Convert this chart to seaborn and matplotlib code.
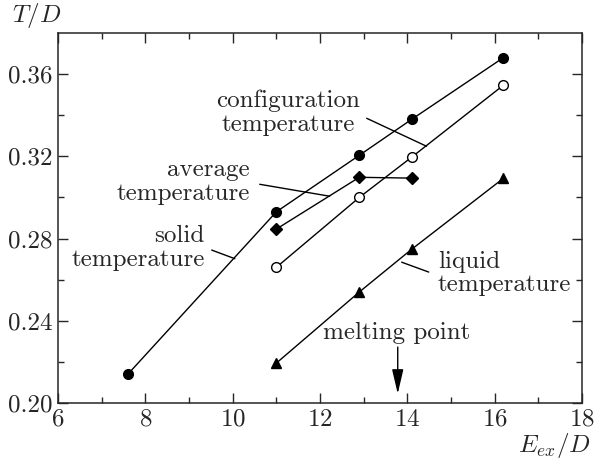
import pandas as pd
import numpy as np
import matplotlib
matplotlib.use("Agg")
import matplotlib.pyplot as plt
import seaborn as sns

# ── Données ────────────────────────────────────────────────
solid_x = [7.6, 11.0, 12.9, 14.1, 16.2]
solid_y = [0.214, 0.293, 0.3205, 0.338, 0.368]

config_x = [11.0, 12.9, 14.1, 16.2]
config_y = [0.266, 0.300, 0.3196, 0.3546]

average_x = [11.0, 12.9, 14.1]
average_y = [0.2846, 0.3098, 0.3094]

liquid_x = [11.0, 12.9, 14.1, 16.2]
liquid_y = [0.2194, 0.254, 0.2748, 0.3093]

xticks = [6, 8, 10, 12, 14, 16, 18]
yticks = [0.20, 0.24, 0.28, 0.32, 0.36]
ytick_labels = ["0.20", "0.24", "0.28", "0.32", "0.36"]

melting_x = 13.78

# ── Style ──────────────────────────────────────────────────
sns.set_style("ticks")
plt.rcParams["font.family"] = ["cmr10", "DejaVu Serif"]
plt.rcParams["mathtext.fontset"] = "cm"
plt.rcParams["axes.formatter.use_mathtext"] = True
plt.rcParams["font.size"] = 18

fig = plt.figure(figsize=(5.94, 4.63), dpi=100)
ax = fig.add_axes([58 / 594, 1 - 403 / 463, 524 / 594, 370 / 463])

series = [
    ("solid", solid_x, solid_y, "o", "black"),
    ("config", config_x, config_y, "o", "white"),
    ("average", average_x, average_y, "D", "black"),
    ("liquid", liquid_x, liquid_y, "^", "black"),
]
for name, xs, ys, mk, fc in series:
    df = pd.DataFrame({"x": xs, "y": ys})
    ms = 6.2 if mk == "D" else 7
    sns.lineplot(data=df, x="x", y="y", ax=ax, color="black", lw=1.0,
                 marker=mk, markersize=ms, markerfacecolor=fc,
                 markeredgecolor="black", markeredgewidth=1.0,
                 estimator=None, sort=False, legend=False)

ax.set_xlim(6, 18)
ax.set_ylim(0.20, 0.38)
ax.set_xticks(xticks)
ax.set_xticks(np.arange(7, 18, 2), minor=True)
ax.set_yticks(yticks)
ax.set_yticklabels(ytick_labels)
ax.set_yticks([0.22, 0.26, 0.30, 0.34], minor=True)
ax.tick_params(which="both", direction="in", top=True, right=True, width=1.0)
ax.tick_params(which="major", length=7, pad=4)
ax.tick_params(which="minor", length=4)
for s in ax.spines.values():
    s.set_linewidth(1.1)
ax.set_xlabel("")
ax.set_ylabel("")

# ── Annotations ────────────────────────────────────────────
ls = 1.1
ax.text(12.91, 0.341, "configuration\ntemperature", ha="right", va="center",
        multialignment="center", linespacing=ls)
ax.plot([13.07, 14.44], [0.3385, 0.3249], color="black", lw=1.0)

ax.text(10.39, 0.3077, "average\ntemperature", ha="right", va="center",
        multialignment="right", linespacing=ls)
ax.plot([10.62, 12.22], [0.3064, 0.3006], color="black", lw=1.0)

ax.text(9.36, 0.2753, "solid\ntemperature", ha="right", va="center",
        multialignment="right", linespacing=ls)
ax.plot([9.52, 10.05], [0.2744, 0.2702], color="black", lw=1.0)

ax.text(14.70, 0.263, "liquid\ntemperature", ha="left", va="center",
        multialignment="left", linespacing=ls)
ax.plot([14.49, 13.87], [0.2637, 0.2685], color="black", lw=1.0)

ax.text(13.76, 0.234, "melting point", ha="center", va="center")
ax.annotate("", xy=(melting_x, 0.2045), xytext=(melting_x, 0.2272),
            arrowprops=dict(arrowstyle="-|>,head_length=1.5,head_width=0.35",
                            color="black", lw=1.0,
                            mutation_scale=10, shrinkA=0, shrinkB=0))

fig.text(12 / 594, 1 - 15 / 463, r"$T/D$", ha="left", va="center")
fig.text(591 / 594, 1 - 445 / 463, r"$E_{ex}/D$", ha="right", va="center")

fig.savefig("out.png", dpi=100)
plt.close(fig)
